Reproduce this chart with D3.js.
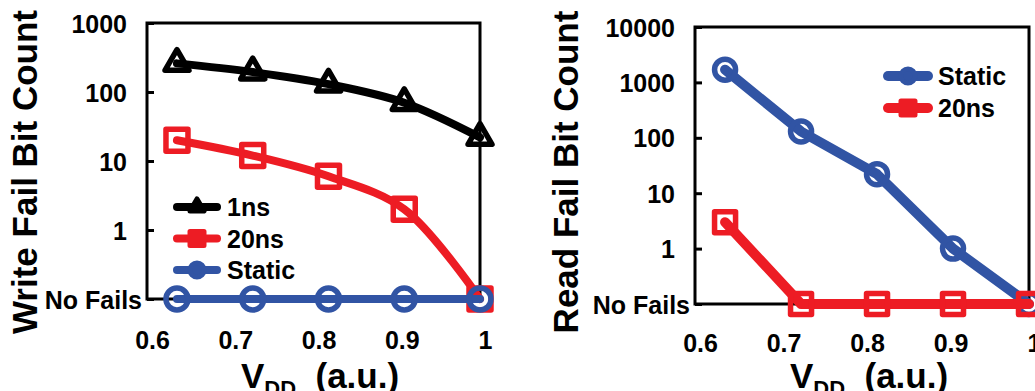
<!DOCTYPE html>
<html>
<head>
<meta charset="utf-8">
<script src="https://cdn.jsdelivr.net/npm/d3@7"></script>
<style>
  body { margin: 0; background: #fff; }
  svg { display: block; }
  text { font-family: "Liberation Sans", Arial, sans-serif; font-weight: bold; fill: #000; }
</style>
</head>
<body>
<svg id="chart" width="1035" height="391"></svg>
<script>

// values; "No Fails" is drawn one decade under 1
const NO_FAIL = 0.1;
const vdd = [0.636, 0.727, 0.818, 0.909, 1.0];
const xTicks = [0.6, 0.7, 0.8, 0.9, 1];

const write1ns = [260, 195, 130, 70, 22];
const write20ns = [20, 12, 6, 2, NO_FAIL];
const writeStatic = [NO_FAIL, NO_FAIL, NO_FAIL, NO_FAIL, NO_FAIL];
const writeTicks = [NO_FAIL, 1, 10, 100, 1000];

const readStatic = [1700, 130, 22, 1, NO_FAIL];
const read20ns = [3, NO_FAIL, NO_FAIL, NO_FAIL, NO_FAIL];
const readTicks = [NO_FAIL, 1, 10, 100, 1000, 10000];

const colors = {'black': '#000000', 'red': '#ED1C24', 'blue': '#3154A4'};

const svg = d3.select('#chart');

function markerPath(type, s) {
    if (type == 'triangle') {
        var h = s * Math.sqrt(3) / 2;
        return 'M0,' + (-h * 2 / 3) + 'L' + (s / 2) + ',' + (h / 3) + 'L' + (-s / 2) + ',' + (h / 3) + 'Z';
    }
    if (type == 'square') {
        return 'M' + (-s / 2) + ',' + (-s / 2) + 'h' + s + 'v' + s + 'h' + (-s) + 'Z';
    }
    var r = s / 2;
    return 'M' + r + ',0A' + r + ',' + r + ' 0 1,1 ' + (-r) + ',0A' + r + ',' + r + ' 0 1,1 ' + r + ',0Z';
}

function drawPanel(p) {
    var g = svg.append('g');
    var x = d3.scaleLinear().domain([0.6, 1.0]).range([p.x0, p.x1]);
    var y = d3.scaleLog().domain([NO_FAIL, p.yMax]).range([p.yBot, p.yTop]);

    // plot frame
    g.append('rect')
        .attr('x', p.x0).attr('y', p.yTop)
        .attr('width', p.x1 - p.x0).attr('height', p.yBot - p.yTop)
        .style('fill', 'none').style('stroke', '#000').style('stroke-width', 3);

    // y axis, ticks pointing in
    var yAxis = g.append('g')
        .attr('transform', 'translate(' + p.x0 + ',0)')
        .call(d3.axisLeft(y).tickValues(p.ticks).tickSize(-7).tickPadding(20)
            .tickFormat(function(d) { return d == NO_FAIL ? 'No Fails' : d3.format('d')(d); }));
    yAxis.select('.domain').remove();
    yAxis.selectAll('line').style('stroke', '#000').style('stroke-width', 3);
    yAxis.selectAll('text')
        .style('font-family', '"Liberation Sans", Arial, sans-serif')
        .style('font-size', '25px').style('font-weight', 'bold').style('fill', '#000')
        .attr('dy', '0.36em');
    yAxis.selectAll('.tick').filter(function(d) { return d == NO_FAIL; })
        .select('text').attr('x', -5).style('font-size', '25px');

    // x axis labels only
    var xAxis = g.append('g')
        .attr('transform', 'translate(0,' + p.yBot + ')')
        .call(d3.axisBottom(x).tickValues(xTicks).tickSize(0).tickPadding(0)
            .tickFormat(function(d) { return d == 1 ? '1' : d3.format('.1f')(d); }));
    xAxis.select('.domain').remove();
    xAxis.selectAll('text')
        .attr('x', 5).attr('y', p.xLabelY - p.yBot).attr('dy', 0)
        .style('font-family', '"Liberation Sans", Arial, sans-serif')
        .style('font-size', '25px').style('font-weight', 'bold').style('fill', '#000');

    // axis titles
    g.append('text')
        .attr('transform', 'translate(' + p.yTitleX + ',172) rotate(-90)')
        .attr('text-anchor', 'middle')
        .style('font-size', '35px')
        .text(p.yTitle);

    var xt = g.append('text')
        .attr('x', p.xTitleX).attr('y', 388)
        .attr('text-anchor', 'middle')
        .style('font-size', '35px');
    xt.append('tspan').text('V');
    xt.append('tspan').attr('dy', 8).style('font-size', '22px').text('DD');
    xt.append('tspan').attr('dy', -8).text('\u00a0 (a.u.)');

    // series
    var line = d3.line()
        .x(function(d, i) { return x(vdd[i]); })
        .y(function(d) { return y(d); })
        .curve(p.smooth ? d3.curveCatmullRom.alpha(0.5) : d3.curveLinear);

    p.series.forEach(function(s) {
        var sg = g.append('g');
        sg.append('path')
            .datum(s.values)
            .attr('d', line)
            .style('fill', 'none')
            .style('stroke', colors[s.color])
            .style('stroke-width', p.lineWidth)
            .style('stroke-linejoin', 'round')
            .style('stroke-linecap', 'round');
        sg.selectAll('path.mk')
            .data(s.values)
            .enter().append('path')
            .attr('class', 'mk')
            .attr('transform', function(d, i) { return 'translate(' + x(vdd[i]) + ',' + y(d) + ')'; })
            .attr('d', markerPath(s.marker, s.marker == 'triangle' ? p.markSize + 2 : p.markSize))
            .style('fill', 'none')
            .style('stroke', colors[s.color])
            .style('stroke-width', 5.5)
            .style('stroke-linejoin', 'round');
    });

    // legend
    p.series.forEach(function(s, k) {
        var ly = p.legY + k * p.legStep;
        var lg = g.append('g');
        lg.append('line')
            .attr('x1', p.legX).attr('x2', p.legX + 40)
            .attr('y1', ly).attr('y2', ly)
            .style('stroke', colors[s.color])
            .style('stroke-width', p.lineWidth)
            .style('stroke-linecap', 'round');
        lg.append('path')
            .attr('transform', 'translate(' + (p.legX + 20) + ',' + ly + ')')
            .attr('d', markerPath(s.marker, 14))
            .style('fill', colors[s.color])
            .style('stroke', colors[s.color])
            .style('stroke-width', 5)
            .style('stroke-linejoin', 'round');
        lg.append('text')
            .attr('x', p.legX + 50).attr('y', ly).attr('dy', '0.36em')
            .style('font-size', '25px')
            .text(s.name);
    });
}

drawPanel({
    x0: 147, x1: 480, yTop: 23, yBot: 299, yMax: 1000,
    ticks: writeTicks, yTitle: 'Write Fail Bit Count', yTitleX: 37,
    xTitleX: 320, xLabelY: 349, smooth: true, lineWidth: 8, markSize: 22,
    legX: 177, legY: 207, legStep: 31.5,
    series: [
        {'name': '1ns', 'values': write1ns, 'color': 'black', 'marker': 'triangle'},
        {'name': '20ns', 'values': write20ns, 'color': 'red', 'marker': 'square'},
        {'name': 'Static', 'values': writeStatic, 'color': 'blue', 'marker': 'circle'}
    ]
});

drawPanel({
    x0: 695, x1: 1029, yTop: 27, yBot: 304, yMax: 10000,
    ticks: readTicks, yTitle: 'Read Fail Bit Count', yTitleX: 578,
    xTitleX: 869, xLabelY: 352, smooth: false, lineWidth: 10, markSize: 21,
    legX: 888, legY: 76, legStep: 32,
    series: [
        {'name': 'Static', 'values': readStatic, 'color': 'blue', 'marker': 'circle'},
        {'name': '20ns', 'values': read20ns, 'color': 'red', 'marker': 'square'}
    ]
});

</script>
</body>
</html>
